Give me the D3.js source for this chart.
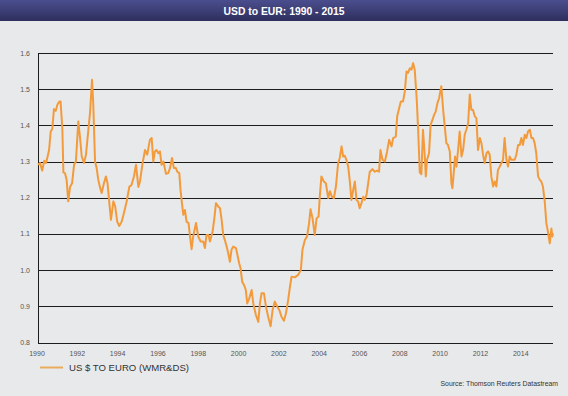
<!DOCTYPE html>
<html>
<head>
<meta charset="utf-8">
<script src="https://cdn.jsdelivr.net/npm/d3@7"></script>
<style>
  body { margin: 0; background: #e8e9eb; }
  svg { display: block; }
</style>
</head>
<body>
<div id="chart"></div>
<script type="text/javascript">

var years = [
  1990.00,1990.10,1990.21,1990.31,1990.40,1990.46,1990.55,1990.63,1990.71,1990.79,1990.88,1990.96,
  1991.06,1991.12,1991.21,1991.26,1991.34,1991.42,1991.50,1991.59,1991.69,1991.79,1991.88,
  1992.00,1992.08,1992.17,1992.28,1992.38,1992.50,1992.58,1992.68,1992.74,1992.83,1992.91,1992.99,
  1993.07,1993.16,1993.27,1993.37,1993.45,1993.54,1993.62,1993.74,1993.83,1993.93,
  1994.03,1994.15,1994.26,1994.40,1994.53,1994.64,1994.76,1994.86,1994.98,
  1995.06,1995.19,1995.31,1995.42,1995.55,1995.64,1995.72,1995.80,1995.88,1995.97,
  1996.05,1996.13,1996.22,1996.35,1996.46,1996.55,1996.65,1996.74,1996.84,1996.91,
  1997.01,1997.07,1997.14,1997.21,1997.29,1997.37,1997.47,1997.54,1997.62,1997.70,1997.84,1997.95,
  1998.07,1998.20,1998.28,1998.36,1998.46,1998.53,1998.66,1998.74,1998.83,1998.94,
  1999.03,1999.11,1999.19,1999.27,1999.36,1999.44,1999.52,1999.60,1999.69,1999.82,1999.88,1999.98,
  2000.05,2000.13,2000.22,2000.31,2000.38,2000.48,2000.60,2000.68,2000.81,2000.93,
  2001.01,2001.09,2001.21,2001.31,2001.42,2001.54,2001.64,2001.75,2001.87,2001.97,
  2002.08,2002.20,2002.30,2002.41,2002.50,2002.58,2002.74,2002.91,
  2003.04,2003.12,2003.24,2003.35,2003.45,2003.52,2003.62,2003.73,2003.82,2003.92,2003.98,
  2004.06,2004.18,2004.28,2004.40,2004.48,2004.58,2004.68,2004.78,2004.89,2004.97,
  2005.06,2005.14,2005.22,2005.30,2005.39,2005.47,2005.55,2005.64,2005.72,2005.80,2005.88,2005.96,
  2006.05,2006.13,2006.21,2006.30,2006.38,2006.46,2006.59,2006.71,2006.82,2006.92,2006.99,
  2007.09,2007.21,2007.32,2007.42,2007.54,2007.62,2007.75,2007.82,2007.92,
  2008.00,2008.11,2008.20,2008.28,2008.36,2008.45,2008.53,2008.61,2008.69,2008.79,2008.86,2008.94,
  2009.02,2009.10,2009.19,2009.24,2009.30,2009.40,2009.48,2009.57,2009.65,2009.73,2009.82,2009.90,2009.96,
  2010.01,2010.10,2010.18,2010.26,2010.34,2010.43,2010.51,2010.56,2010.63,2010.69,2010.76,2010.84,2010.92,
  2011.01,2011.09,2011.17,2011.25,2011.34,2011.42,2011.50,2011.58,2011.67,2011.75,2011.83,2011.92,
  2012.00,2012.08,2012.16,2012.25,2012.33,2012.41,2012.49,2012.58,2012.66,2012.74,2012.82,2012.91,2012.99,
  2013.07,2013.15,2013.24,2013.32,2013.40,2013.48,2013.57,2013.65,2013.73,2013.82,2013.90,2013.98,
  2014.06,2014.15,2014.23,2014.31,2014.40,2014.48,2014.56,2014.64,2014.72,2014.81,2014.89,2014.97,
  2015.05,2015.14,2015.22,2015.30,2015.39,2015.47,2015.52,2015.55
];
var rates = [
  1.291,1.296,1.275,1.302,1.296,1.310,1.332,1.383,1.390,1.445,1.440,1.457,
  1.466,1.466,1.388,1.270,1.268,1.250,1.190,1.230,1.240,1.291,1.300,
  1.411,1.369,1.314,1.296,1.319,1.388,1.434,1.526,1.462,1.300,1.282,1.250,
  1.230,1.213,1.240,1.259,1.240,1.185,1.139,1.190,1.176,1.134,
  1.122,1.134,1.157,1.190,1.230,1.235,1.259,1.291,1.230,
  1.245,1.296,1.332,1.319,1.360,1.365,1.300,1.328,1.332,1.323,
  1.328,1.291,1.300,1.266,1.268,1.282,1.310,1.282,1.282,1.272,
  1.268,1.222,1.185,1.153,1.166,1.134,1.130,1.093,1.058,1.093,1.130,1.093,
  1.079,1.079,1.061,1.097,1.097,1.079,1.106,1.139,1.185,1.176,
  1.171,1.139,1.097,1.083,1.065,1.046,1.023,1.056,1.065,1.061,1.046,1.019,
  1.005,0.968,0.959,0.945,0.908,0.922,0.945,0.908,0.876,0.857,
  0.908,0.936,0.936,0.899,0.871,0.845,0.890,0.913,0.899,0.890,
  0.871,0.860,0.880,0.917,0.954,0.982,0.980,0.987,
  1.000,1.056,1.083,1.093,1.130,1.168,1.143,1.097,1.143,1.148,1.203,
  1.259,1.245,1.240,1.199,1.218,1.203,1.199,1.231,1.296,1.310,
  1.342,1.314,1.316,1.305,1.286,1.245,1.194,1.222,1.245,1.194,1.190,1.171,
  1.185,1.203,1.194,1.208,1.240,1.272,1.279,1.272,1.275,1.272,1.332,
  1.305,1.300,1.328,1.360,1.342,1.365,1.369,1.425,1.448,
  1.466,1.466,1.494,1.549,1.545,1.558,1.554,1.572,1.554,1.471,1.388,1.270,
  1.265,1.388,1.314,1.259,1.305,1.323,1.402,1.415,1.429,1.438,1.462,1.475,1.494,
  1.508,1.443,1.397,1.351,1.346,1.328,1.240,1.226,1.272,1.314,1.286,1.332,1.383,
  1.314,1.332,1.374,1.388,1.406,1.485,1.443,1.443,1.425,1.420,1.332,1.365,
  1.351,1.319,1.296,1.323,1.328,1.319,1.259,1.231,1.245,1.231,1.277,1.286,1.296,
  1.305,1.365,1.305,1.286,1.314,1.305,1.305,1.305,1.319,1.346,1.346,1.365,
  1.346,1.374,1.365,1.383,1.388,1.365,1.365,1.351,1.323,1.259,1.250,1.245,
  1.231,1.190,1.130,1.106,1.074,1.115,1.093,1.102
];

var yTicks = [0.8, 0.9, 1.0, 1.1, 1.2, 1.3, 1.4, 1.5, 1.6];
var xTicks = [1990, 1992, 1994, 1996, 1998, 2000, 2002, 2004, 2006, 2008, 2010, 2012, 2014];

var title = "USD to EUR: 1990 - 2015";
var seriesName = "US $ TO EURO (WMR&DS)";
var source = "Source: Thomson Reuters Datastream";

var width = 568, height = 396;
var plotLeft = 38, plotRight = 553, plotTop = 53, plotBottom = 342.5;

var svg = d3.select("#chart").append("svg")
  .attr("width", width)
  .attr("height", height);

// title bar
var defs = svg.append("defs");
var grad = defs.append("linearGradient").attr("id", "bar")
  .attr("x1", 0).attr("y1", 0).attr("x2", 0).attr("y2", 1);
grad.append("stop").attr("offset", "0%").attr("stop-color", "#4b4e8e");
grad.append("stop").attr("offset", "100%").attr("stop-color", "#2e2f5d");

svg.append("rect").attr("width", width).attr("height", height).attr("fill", "#e8e9eb");
svg.append("rect").attr("width", width).attr("height", 21).attr("fill", "url(#bar)");
svg.append("text")
  .attr("x", 284).attr("y", 14.5)
  .attr("text-anchor", "middle")
  .attr("textLength", 121)
  .attr("lengthAdjust", "spacingAndGlyphs")
  .style("font-family", "'Liberation Sans', Arial, sans-serif")
  .style("font-weight", "bold")
  .style("font-size", "11px")
  .attr("fill", "#ffffff")
  .text(title);

var x = d3.scaleLinear().domain([1990, 2015.55]).range([plotLeft, plotRight]);
var y = d3.scaleLinear().domain([0.8, 1.6]).range([plotBottom, plotTop]);

// gridlines
svg.append("g")
  .selectAll("line")
  .data(yTicks)
  .enter().append("line")
  .attr("x1", plotLeft).attr("x2", plotRight)
  .attr("y1", function(d) { return Math.round(y(d)) + 0.5; })
  .attr("y2", function(d) { return Math.round(y(d)) + 0.5; })
  .attr("stroke", "#1c1c1c")
  .attr("stroke-width", 1);

// left axis line
svg.append("line")
  .attr("x1", plotLeft + 0.5).attr("x2", plotLeft + 0.5)
  .attr("y1", Math.round(y(1.6)) + 0.5).attr("y2", Math.round(y(0.8)) + 0.5)
  .attr("stroke", "#1c1c1c");

// y labels
svg.append("g")
  .selectAll("text")
  .data(yTicks)
  .enter().append("text")
  .attr("x", 30)
  .attr("y", function(d) { return y(d) + 2.5; })
  .attr("text-anchor", "end")
  .style("font-family", "'Liberation Sans', Arial, sans-serif")
  .style("font-size", "7px")
  .attr("fill", "#555")
  .text(function(d) { return d3.format(".1f")(d); });

// x labels
svg.append("g")
  .selectAll("text")
  .data(xTicks)
  .enter().append("text")
  .attr("x", function(d) { return x(d) - 1; })
  .attr("y", 356)
  .attr("text-anchor", "middle")
  .style("font-family", "'Liberation Sans', Arial, sans-serif")
  .style("font-size", "7px")
  .attr("fill", "#555")
  .text(function(d) { return d; });

// the series
var line = d3.line()
  .x(function(d, i) { return x(years[i]); })
  .y(function(d) { return y(d); });

svg.append("path")
  .datum(rates)
  .attr("d", line)
  .attr("fill", "none")
  .attr("stroke", "#f39b3c")
  .attr("stroke-width", 2)
  .attr("stroke-linejoin", "round");

// legend
svg.append("line")
  .attr("x1", 40).attr("x2", 63)
  .attr("y1", 367.5).attr("y2", 367.5)
  .attr("stroke", "#e9ac5c")
  .attr("stroke-width", 2);
svg.append("text")
  .attr("x", 69).attr("y", 371)
  .attr("textLength", 120)
  .attr("lengthAdjust", "spacingAndGlyphs")
  .style("font-family", "'Liberation Sans', Arial, sans-serif")
  .style("font-size", "9.5px")
  .attr("fill", "#333")
  .text(seriesName);

// source (condensed look)
svg.append("text")
  .attr("transform", "translate(558,386) scale(0.86,1)")
  .attr("text-anchor", "end")
  .style("font-family", "'Liberation Sans', Arial, sans-serif")
  .style("font-size", "8px")
  .attr("fill", "#333")
  .text(source);

</script>
</body>
</html>
